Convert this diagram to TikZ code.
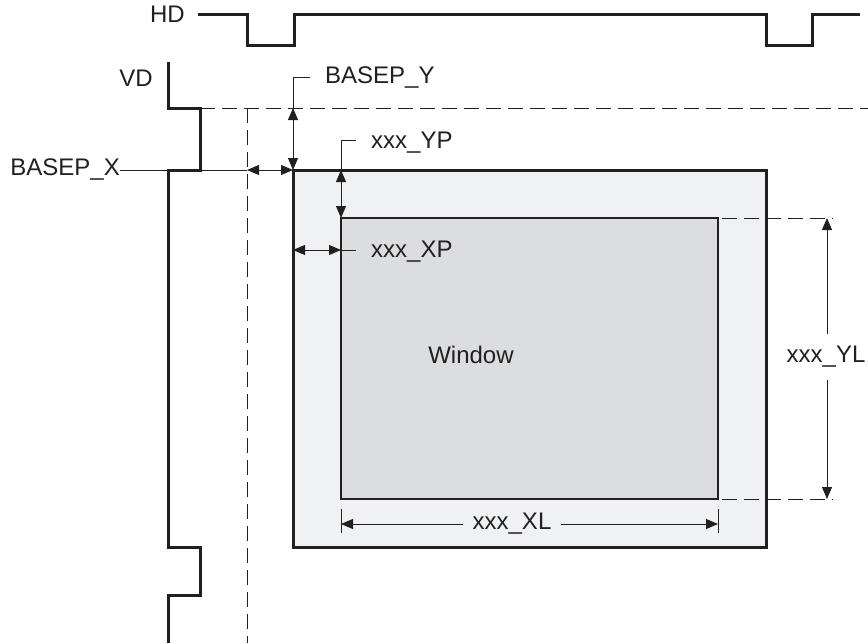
\documentclass[tikz,border=0pt]{standalone}
\usepackage{fontspec}
\setmainfont{Liberation Sans}
\usetikzlibrary{arrows.meta}
\definecolor{ink}{HTML}{231F20}
\definecolor{outerfill}{HTML}{F0F1F3}
\definecolor{innerfill}{HTML}{DCDDDF}
\begin{document}
\begin{tikzpicture}[x=1pt,y=-1pt,
  every node/.style={font=\fontsize{24}{28}\selectfont, text=ink, inner sep=0pt},
  wave/.style={line width=3pt, draw=ink, line join=miter},
  thinline/.style={line width=1pt, draw=ink},
  dashline/.style={line width=1pt, draw=ink, dash pattern=on 15pt off 7pt},
  tip/.style={-{Triangle[length=12pt,width=10pt]}},
  dim/.style={thinline, {Triangle[length=12pt,width=10pt]}-{Triangle[length=12pt,width=10pt]}}]
\useasboundingbox (0,0) rectangle (868,643);
% rectangles
\coordinate (oTL) at (293,170); \coordinate (oBR) at (766,547);
\coordinate (iTL) at (341,218); \coordinate (iBR) at (718,499);
\draw[line width=3pt, draw=ink, fill=outerfill] (oTL) rectangle (oBR);
\draw[line width=2pt, draw=ink, fill=innerfill] (iTL) rectangle (iBR);
\node (win) at (471,355) {Window};
% HD waveform
\node[anchor=east] (hd) at (185,14) {HD};
\coordinate (hd0) at (198,14);
\draw[wave] (hd0) -| (247,45) -| (294,14) -| (766,45) -| (812,14) -- (860,14);
% VD waveform
\node[anchor=east] (vd) at (153,78) {VD};
\coordinate (vd0) at (168,62);
\draw[wave] (vd0) |- (200,108) |- (168,170) |- (200,547) |- (168,595) -- (168,643);
% dashed references
\coordinate (dh0) at (200,108); \coordinate (dh1) at (868,108);
\coordinate (dv0) at (247,108); \coordinate (dv1) at (247,643);
\draw[dashline] (dh0) -- (dh1);
\draw[dashline] (dv0) -- (dv1);
% BASEP_X
\node[anchor=east] (bx) at (120,170) {BASEP\_X};
\coordinate (vdA) at (168,170); \coordinate (vdB) at (200,170);
\coordinate (bxL) at (247,170);
\draw[thinline] (bx.east) -- (vdA);
\draw[thinline] (vdB) -- (bxL);
\draw[dim] (bxL) -- (oTL);
% BASEP_Y
\coordinate (byT) at (293,108);
\node[anchor=west] (by) at (325,78) {BASEP\_Y};
\draw[dim] (byT) -- (oTL);
\draw[thinline] (byT) |- (310,77);
% xxx_YP
\coordinate (ypT) at (341,170);
\node[anchor=west] (yp) at (371,143) {xxx\_YP};
\draw[dim] (ypT) -- (iTL);
\draw[thinline] (ypT) |- (356,140);
% xxx_XP
\coordinate (xpL) at (293,250); \coordinate (xpR) at (341,250);
\node[anchor=west] (xp) at (371,252) {xxx\_XP};
\draw[dim] (xpL) -- (xpR);
\draw[thinline] (xpR) -- (356,250);
% xxx_YL
\coordinate (ylT) at (827,218); \coordinate (ylB) at (827,499);
\draw[dashline] (722,218) -- (833,218);
\draw[dashline] (722,499) -- (833,499);
\node[inner ysep=12pt] (yl) at (826,357) {xxx\_YL};
\draw[thinline, tip] (yl.north -| ylT) -- (ylT);
\draw[thinline, tip] (yl.south -| ylB) -- (ylB);
% xxx_XL
\coordinate (xlL) at (341,524); \coordinate (xlR) at (718,524);
\node[inner xsep=9pt] (xl) at (512,524) {xxx\_XL};
\draw[thinline, tip] (xl.west) -- (xlL);
\draw[thinline, tip] (xl.east) -- (xlR);
\draw[thinline] (341,509) -- (341,533);
\draw[thinline] (718,509) -- (718,533);
\end{tikzpicture}
\end{document}
